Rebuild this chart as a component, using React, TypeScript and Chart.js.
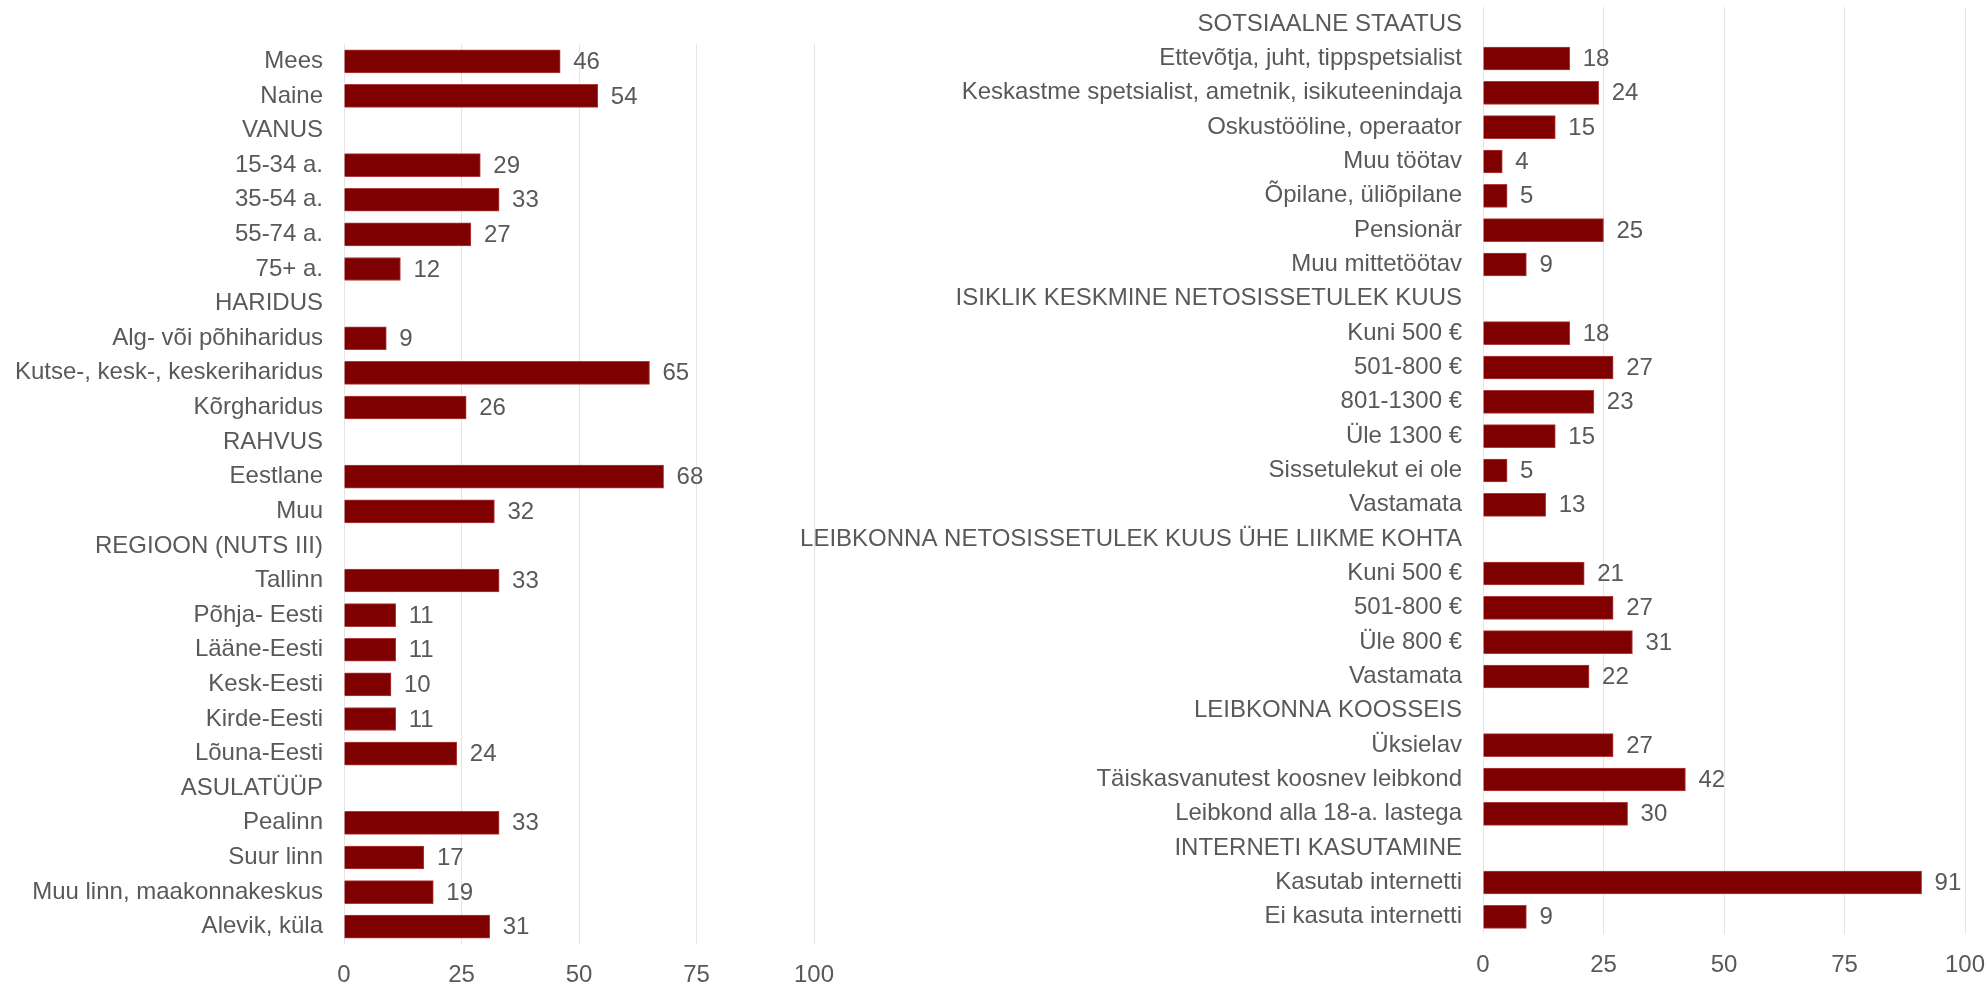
import React, { useEffect, useRef } from "react";
import { Chart, registerables } from "chart.js";

Chart.register(...registerables);

const leftCategories: string[] = [
  "Mees", "Naine", "VANUS", "15-34 a.", "35-54 a.", "55-74 a.", "75+ a.",
  "HARIDUS", "Alg- või põhiharidus", "Kutse-, kesk-, keskeriharidus", "Kõrgharidus",
  "RAHVUS", "Eestlane", "Muu", "REGIOON (NUTS III)", "Tallinn", "Põhja- Eesti",
  "Lääne-Eesti", "Kesk-Eesti", "Kirde-Eesti", "Lõuna-Eesti", "ASULATÜÜP",
  "Pealinn", "Suur linn", "Muu linn, maakonnakeskus", "Alevik, küla",
];
const leftValues: (number | null)[] = [
  46, 54, null, 29, 33, 27, 12, null, 9, 65, 26, null, 68, 32, null, 33, 11, 11, 10, 11, 24, null,
  33, 17, 19, 31,
];

const rightCategories: string[] = [
  "SOTSIAALNE STAATUS", "Ettevõtja, juht, tippspetsialist",
  "Keskastme spetsialist, ametnik, isikuteenindaja", "Oskustööline, operaator",
  "Muu töötav", "Õpilane, üliõpilane", "Pensionär", "Muu mittetöötav",
  "ISIKLIK KESKMINE NETOSISSETULEK KUUS", "Kuni 500 €", "501-800 €", "801-1300 €",
  "Üle 1300 €", "Sissetulekut ei ole", "Vastamata",
  "LEIBKONNA NETOSISSETULEK KUUS ÜHE LIIKME KOHTA", "Kuni 500 €", "501-800 €",
  "Üle 800 €", "Vastamata", "LEIBKONNA KOOSSEIS", "Üksielav",
  "Täiskasvanutest koosnev leibkond", "Leibkond alla 18-a. lastega",
  "INTERNETI KASUTAMINE", "Kasutab internetti", "Ei kasuta internetti",
];
const rightValues: (number | null)[] = [
  null, 18, 24, 15, 4, 5, 25, 9, null, 18, 27, 23, 15, 5, 13, null, 21, 27, 31, 22, null,
  27, 42, 30, null, 91, 9,
];

const xTicks: number[] = [0, 25, 50, 75, 100];

const FONT = "'Liberation Sans', Arial, sans-serif";
const TEXT = "#595959";
const BAR = "#7f0000";
const GRID = "#e4e4e4";

const valueLabels = {
  id: "valueLabels",
  afterDatasetsDraw(chart: any) {
    const ctx = chart.ctx;
    ctx.save();
    ctx.font = `24px ${FONT}`;
    ctx.fillStyle = TEXT;
    ctx.textAlign = "left";
    ctx.textBaseline = "middle";
    chart.data.datasets.forEach((ds: any, di: number) => {
      const meta = chart.getDatasetMeta(di);
      meta.data.forEach((el: any, i: number) => {
        const v = ds.data[i];
        if (v === null || v === undefined) return;
        ctx.fillText(String(v), el.x + 13, el.y + 1);
      });
    });
    ctx.restore();
  },
};

type Cfg = {
  labels: string[];
  values: (number | null)[];
  left: number;
  width: number;
  top: number;
  bottom: number;
  areaLeft: number;
  areaRight: number;
};

function BarPanel(p: Cfg) {
  const ref = useRef<HTMLCanvasElement>(null);
  useEffect(() => {
    if (!ref.current) return;
    const H = 985;
    const chart = new Chart(ref.current, {
      type: "bar",
      data: {
        labels: p.labels,
        datasets: [
          {
            data: p.values as any,
            backgroundColor: BAR,
            borderColor: "#b33a3a",
            borderWidth: 1,
            barThickness: 23,
          },
        ],
      },
      options: {
        indexAxis: "y",
        responsive: false,
        animation: false,
        devicePixelRatio: 1,
        layout: {
          padding: { top: p.top, right: p.width - p.areaRight, left: 0, bottom: 0 },
        },
        plugins: { legend: { display: false }, tooltip: { enabled: false } },
        scales: {
          x: {
            min: 0,
            max: 100,
            afterBuildTicks: (s: any) => {
              s.ticks = xTicks.map((v) => ({ value: v }));
            },
            afterFit: (s: any) => {
              s.height = H - p.bottom;
              s.paddingLeft = 0;
              s.paddingRight = 0;
            },
            grid: { color: GRID, lineWidth: 1, drawTicks: false },
            border: { display: false },
            ticks: {
              padding: 17,
              color: TEXT,
              font: { family: FONT, size: 24 },
              maxRotation: 0,
            },
          },
          y: {
            afterFit: (s: any) => {
              s.width = p.areaLeft;
              s.paddingTop = 0;
              s.paddingBottom = 0;
            },
            grid: { display: false, drawTicks: false },
            border: { display: false },
            ticks: {
              autoSkip: false,
              padding: 21,
              color: TEXT,
              font: { family: FONT, size: 24 },
            },
          },
        },
      },
      plugins: [valueLabels],
    });
    return () => chart.destroy();
  }, []);
  return (
    <canvas
      ref={ref}
      width={p.width}
      height={985}
      style={{ position: "absolute", left: p.left, top: 0, width: p.width, height: 985 }}
    />
  );
}

export default function App() {
  return (
    <div style={{ position: "absolute", left: 0, top: 0, width: 1988, height: 985, background: "#ffffff" }}>
      <BarPanel
        labels={leftCategories}
        values={leftValues}
        left={0}
        width={860}
        top={44}
        bottom={944}
        areaLeft={344}
        areaRight={814}
      />
      <BarPanel
        labels={rightCategories}
        values={rightValues}
        left={700}
        width={1288}
        top={7}
        bottom={934}
        areaLeft={783}
        areaRight={1265}
      />
    </div>
  );
}
